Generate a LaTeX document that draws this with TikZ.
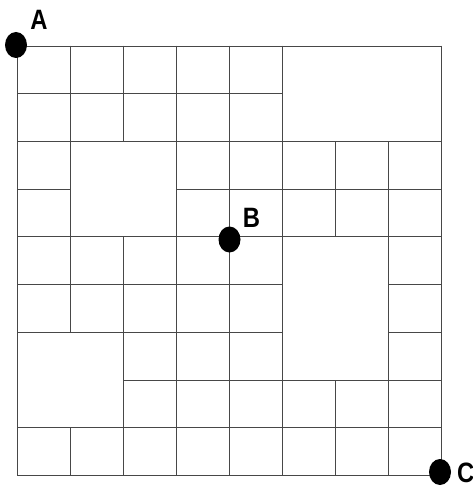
\documentclass[tikz,border=0pt]{standalone}
\usepackage{fontspec}
\setmainfont{Liberation Sans}
\tikzset{
  wall/.style={draw=black!72, line width=0.9pt, line cap=rect},
  dot/.style={ellipse, fill=black, inner sep=0pt, minimum width=22pt, minimum height=26pt},
  lab/.style={font=\bfseries\fontsize{28}{28}\selectfont, inner sep=0pt}
}
\usetikzlibrary{shapes.geometric}
\begin{document}
\begin{tikzpicture}[x=1pt,y=-1pt]
\useasboundingbox (0,0) rectangle (472,486);
\begin{scope}[shift={(17.3,46)}, x=53pt, y=-47.72pt]
  % horizontal walls
  \foreach \r/\a/\b in {0/0/8, 1/0/5, 2/0/8, 3/0/1, 3/3/8, 4/0/8, 5/0/5, 5/7/8, 6/0/5, 6/7/8, 7/2/8, 8/0/8, 9/0/8}
    \draw[wall] (\a,\r) -- (\b,\r);
  % vertical walls
  \foreach \c/\a/\b in {0/0/9, 1/0/6, 1/8/9, 2/0/2, 2/4/9, 3/0/9, 4/0/9, 5/0/9, 6/2/4, 6/7/9, 7/2/9, 8/0/9}
    \draw[wall] (\c,\a) -- (\c,\b);
\end{scope}
\node[dot] (A) at (16,45) {};
\node[dot] (B) at (229.5,239.5) {};
\node[dot] (C) at (440,472) {};
\node[lab] (LA) at (39,20) {\scalebox{0.85}[1]{A}};
\node[lab] (LB) at (251.5,217.5) {\scalebox{0.85}[1]{B}};
\node[lab, anchor=west] (LC) at (457,472.5) {\scalebox{0.85}[1]{C}};
\end{tikzpicture}
\end{document}
